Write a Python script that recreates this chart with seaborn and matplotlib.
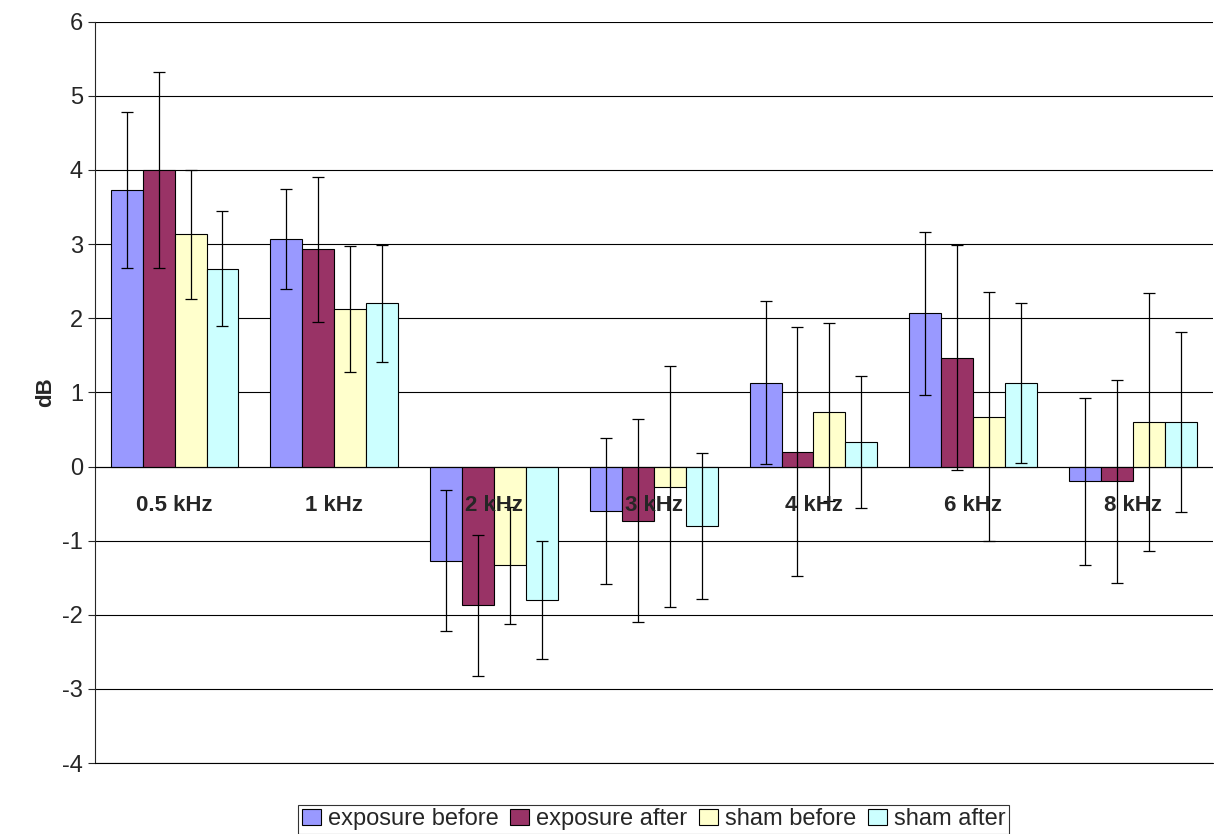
import matplotlib.pyplot as plt
import seaborn as sns
import pandas as pd
import numpy as np

freqs = ["0.5 kHz", "1 kHz", "2 kHz", "3 kHz", "4 kHz", "6 kHz", "8 kHz"]
groups = ["exposure before", "exposure after", "sham before", "sham after"]
exp_before = [3.73, 3.07, -1.27, -0.60, 1.13, 2.07, -0.20]
exp_after = [4.00, 2.93, -1.87, -0.73, 0.20, 1.47, -0.20]
sham_before = [3.13, 2.13, -1.33, -0.27, 0.73, 0.67, 0.60]
sham_after = [2.67, 2.20, -1.80, -0.80, 0.33, 1.13, 0.60]
err_exp_before = [1.05, 0.68, 0.95, 0.98, 1.10, 1.10, 1.13]
err_exp_after = [1.32, 0.98, 0.95, 1.37, 1.68, 1.52, 1.37]
err_sham_before = [0.87, 0.85, 0.79, 1.63, 1.20, 1.68, 1.74]
err_sham_after = [0.78, 0.79, 0.80, 0.98, 0.89, 1.08, 1.21]

colors = ["#9999ff", "#993366", "#ffffcc", "#ccffff"]

series = [exp_before, exp_after, sham_before, sham_after]
errs = [err_exp_before, err_exp_after, err_sham_before, err_sham_after]
df = pd.DataFrame({
    "freq": np.tile(freqs, 4),
    "group": np.repeat(groups, len(freqs)),
    "value": np.concatenate(series),
    "err": np.concatenate(errs),
})

sns.set_style("white")
plt.rcParams["font.family"] = ["Liberation Sans", "DejaVu Sans"]
plt.rcParams["axes.unicode_minus"] = False

f, ax = plt.subplots(figsize=(12.14, 8.34), dpi=100)
f.subplots_adjust(left=0.078, right=0.999, top=0.974, bottom=0.085)

sns.barplot(data=df, x="freq", y="value", hue="group", order=freqs,
            hue_order=groups, palette=colors, saturation=1, edgecolor="black",
            linewidth=0.8, width=0.8, errorbar=None, ax=ax, zorder=3)

# error bars at bar centres
for patch_group, g in zip(ax.containers, groups):
    sub = df[df["group"] == g].set_index("freq").loc[freqs]
    xs = [p.get_x() + p.get_width() / 2 for p in patch_group]
    ax.errorbar(xs, sub["value"], yerr=sub["err"], fmt="none",
                ecolor="black", elinewidth=0.9, capsize=4, capthick=0.9,
                zorder=4)

for i, fr in enumerate(freqs):
    ax.text(i, -0.53, fr, ha="center", va="center", weight="bold",
            fontsize=16, zorder=5)

ax.set_ylim(-4, 6)
ax.set_yticks(range(-4, 7))
ax.set_xlim(-0.5, len(freqs) - 0.5)
ax.set_xticks([])
ax.set_xlabel("")
ax.set_ylabel("dB", weight="bold", fontsize=16)
ax.tick_params(axis="y", labelsize=17, length=5, direction="out", left=True)
ax.grid(axis="y", color="black", linewidth=0.8, zorder=0)
ax.axhline(0, color="black", linewidth=0.8, zorder=3)
ax.axhline(-4, color="black", linewidth=0.8, zorder=3, clip_on=False)
ax.spines[["right", "top", "bottom"]].set_visible(False)
ax.spines["left"].set_linewidth(0.8)

leg = ax.legend(loc="upper center", bbox_to_anchor=(0.5, -0.04), ncol=4,
                frameon=True, fancybox=False, edgecolor="black",
                fontsize=17, handlelength=0.8, handletextpad=0.3,
                columnspacing=0.5, borderpad=0.15)
leg.get_frame().set_linewidth(0.8)

plt.savefig("out.png")
